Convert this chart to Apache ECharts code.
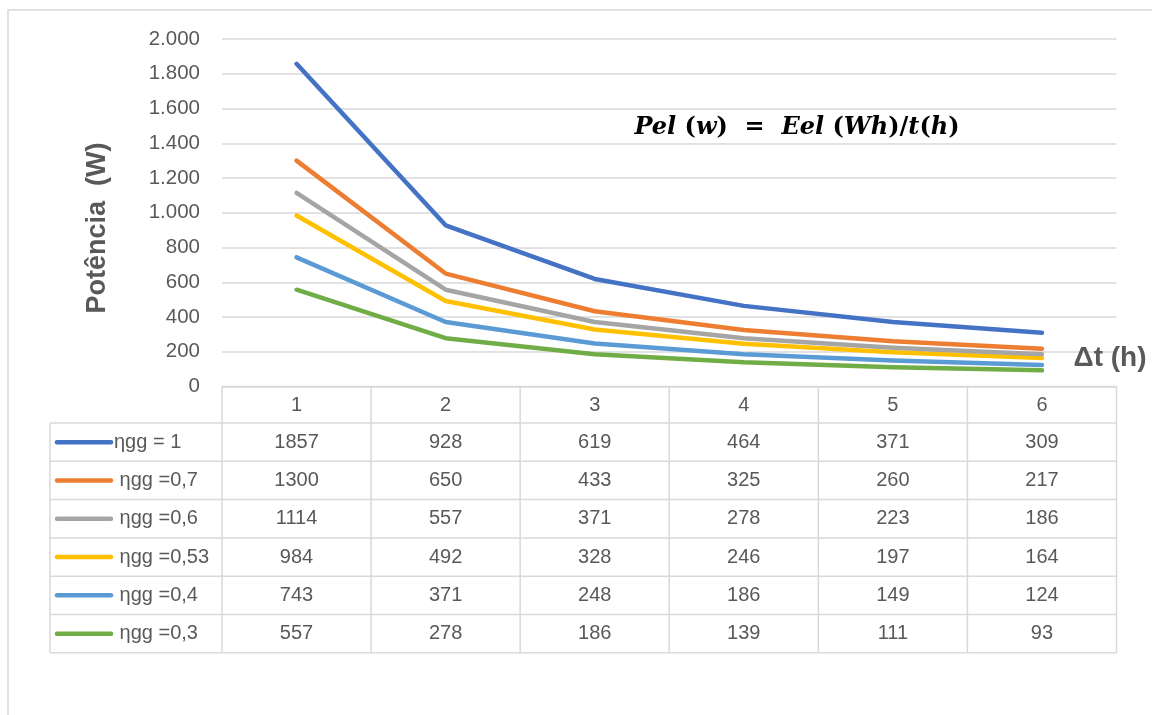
<!DOCTYPE html>
<html><head><meta charset="utf-8">
<script src="https://cdn.jsdelivr.net/npm/echarts@6/dist/echarts.min.js"></script>
<style>html,body{margin:0;padding:0;background:#fff}#c{width:1152px;height:715px}</style>
</head><body><div id="c"></div>
<script>
const categories = ['1','2','3','4','5','6'];
const seriesNames = ['ηgg = 1',' ηgg =0,7',' ηgg =0,6',' ηgg =0,53',' ηgg =0,4',' ηgg =0,3'];
const s1 = [1857, 928, 619, 464, 371, 309];
const s07 = [1300, 650, 433, 325, 260, 217];
const s06 = [1114, 557, 371, 278, 223, 186];
const s053 = [984, 492, 328, 246, 197, 164];
const s04 = [743, 371, 248, 186, 149, 124];
const s03 = [557, 278, 186, 139, 111, 93];
const yTicks = [0, 200, 400, 600, 800, 1000, 1200, 1400, 1600, 1800, 2000];
const values = [s1, s07, s06, s053, s04, s03];
const colors = ['#4472C4','#ED7D31','#A5A5A5','#FFC000','#5B9BD5','#70AD47'];

const FONT = 'Liberation Sans';
const TXT = '#595959';
const GRID = '#d9d9d9';
const L = {left:222, right:35.5, top:39, bottom:328.5, legendLeft:50, headerH:36.5, rowH:38.3};

const chart = echarts.init(document.getElementById('c'));
const fmt = v => String(v).replace(/\B(?=(\d{3})+(?!\d))/g, '.');

chart.setOption({
  animation:false,
  backgroundColor:'#fff',
  grid:{left:L.left, right:L.right, top:L.top, bottom:L.bottom, containLabel:false},
  xAxis:{type:'category', data:categories, boundaryGap:true,
    axisLine:{show:false}, axisTick:{show:false},
    axisLabel:{color:TXT, fontFamily:FONT, fontSize:20, margin:9}},
  yAxis:{type:'value', min:yTicks[0], max:yTicks[yTicks.length-1], interval:yTicks[1]-yTicks[0],
    axisLine:{show:false}, axisTick:{show:false},
    axisLabel:{color:TXT, fontFamily:FONT, fontSize:20.5, margin:22, formatter:fmt},
    splitLine:{lineStyle:{color:GRID, width:1.5}}},
  series: values.map((d,i)=>({type:'line', name:seriesNames[i], data:d, symbol:'none',
    lineStyle:{color:colors[i], width:4.5, cap:'round', join:'round'}, z:3+(values.length-i)}))
});

// Build data table from axes
const x0 = chart.convertToPixel({xAxisIndex:0}, 0);
const x1 = chart.convertToPixel({xAxisIndex:0}, 1);
const band = x1 - x0;
const yBase = chart.convertToPixel({yAxisIndex:0}, 0);
const gx = categories.map((c,i)=>chart.convertToPixel({xAxisIndex:0}, i));
const colEdges = [gx[0]-band/2].concat(gx.map(x=>x+band/2));
const rowTop = yBase + L.headerH;
const tableBottom = rowTop + L.rowH*values.length;
const els = [];
const lineStyle = {stroke:GRID, lineWidth:1.5};
// frame
els.push({type:'rect', shape:{x:8, y:10, width:1300, height:900}, style:{fill:null, stroke:GRID, lineWidth:1.5}, silent:true, z:0});
// header top line
els.push({type:'line', shape:{x1:colEdges[0], y1:yBase, x2:colEdges[colEdges.length-1], y2:yBase}, style:lineStyle});
for (let r=0; r<=values.length; r++) {
  const y = rowTop + r*L.rowH;
  els.push({type:'line', shape:{x1:L.legendLeft, y1:y, x2:colEdges[colEdges.length-1], y2:y}, style:lineStyle});
}
els.push({type:'line', shape:{x1:L.legendLeft, y1:rowTop, x2:L.legendLeft, y2:tableBottom}, style:lineStyle});
colEdges.forEach(x=>els.push({type:'line', shape:{x1:x, y1:yBase, x2:x, y2:tableBottom}, style:lineStyle}));
values.forEach((d,r)=>{
  const cy = rowTop + r*L.rowH + L.rowH/2;
  els.push({type:'line', shape:{x1:L.legendLeft+7, y1:cy, x2:L.legendLeft+61, y2:cy},
    style:{stroke:colors[r], lineWidth:4.5, lineCap:'round'}});
  els.push({type:'text', x:L.legendLeft+64, y:cy, style:{text:seriesNames[r], fill:TXT, font:'20px "'+FONT+'"', textVerticalAlign:'middle', textAlign:'left'}});
  d.forEach((v,i)=>{
    els.push({type:'text', x:gx[i], y:cy, style:{text:String(v), fill:TXT, font:'20px "'+FONT+'"', textAlign:'center', textVerticalAlign:'middle'}});
  });
});
// y axis title
els.push({type:'text', x:98, y:228, rotation:Math.PI/2, style:{text:'Potência  (W)', fill:TXT, font:'bold 27px "'+FONT+'"', textAlign:'center', textVerticalAlign:'middle'}});
// x axis title
els.push({type:'text', x:1110, y:358, style:{text:'Δt (h)', fill:TXT, font:'bold 28px "'+FONT+'"', textAlign:'center', textVerticalAlign:'middle'}});
// formula
els.push({type:'text', x:797, y:128, style:{
  text:'{v|Pel }{p|(}{v|w}{p|)}{p|  =  }{v|Eel }{p|(}{v|Wh}{p|)/}{v|t}{p|(}{v|h}{p|)}',
  textAlign:'center', textVerticalAlign:'middle',
  rich:{
    v:{fill:'#000', font:'italic bold 24px "DejaVu Serif"'},
    p:{fill:'#000', font:'bold 24px "DejaVu Serif"'}
  }}});
chart.setOption({graphic:{elements:els}});
</script></body></html>
